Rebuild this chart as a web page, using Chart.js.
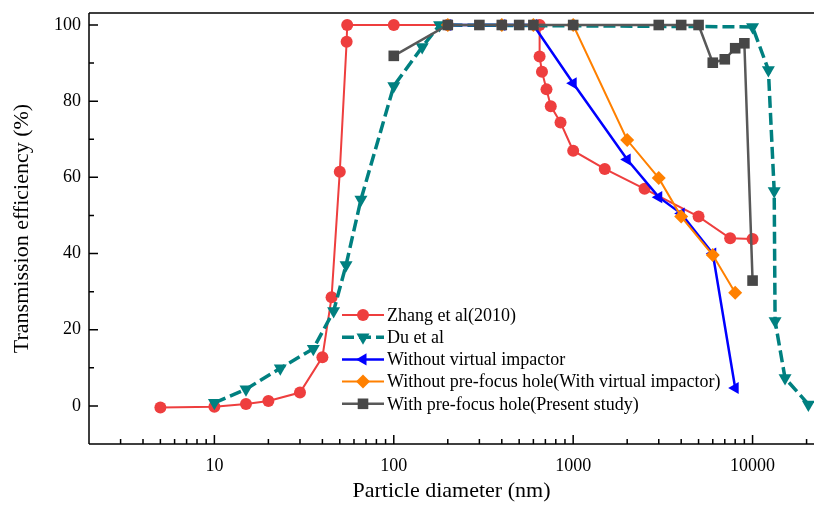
<!DOCTYPE html>
<html lang="en">
<head>
<meta charset="UTF-8">
<title>Transmission efficiency vs particle diameter</title>
<script src="https://cdn.jsdelivr.net/npm/chart.js"></script>
<style>
  html, body { margin: 0; padding: 0; background: #fff; }
  #wrap { width: 814px; height: 512px; }
</style>
</head>
<body>
<div id="wrap"><canvas id="chart"></canvas></div>
<script>
// data (x = particle diameter in nm, y = transmission efficiency in %)
const zhangX = [5, 10, 15, 20, 30, 40, 45, 50, 54.6, 55, 100, 200, 650, 650, 670, 710, 750, 850, 1000, 1500, 2500, 5000, 7500, 10000];
const zhangY = [-0.4, -0.2, 0.5, 1.3, 3.5, 12.8, 28.5, 61.5, 95.6, 100, 100, 100, 100, 91.7, 87.7, 83.1, 78.7, 74.4, 67.0, 62.2, 57.0, 49.7, 44.0, 43.8];

const duX = [10, 15, 23.3, 35.6, 46.2, 54.2, 65.6, 100, 144, 180, 10000, 12250, 13200, 13350, 15170, 20470];
const duY = [0.8, 4.4, 9.9, 15, 24.9, 37, 54.2, 84, 94.2, 100, 99.5, 88.2, 56.4, 22.3, 7.3, 0.4];

const noImpactorX = [200, 400, 600, 1000, 2000, 3000, 4000, 6000, 8000];
const noImpactorY = [100, 100, 100, 84.7, 64.7, 54.8, 50.5, 40, 4.7];

const noHoleX = [200, 400, 600, 1000, 2000, 3000, 4000, 6000, 8000];
const noHoleY = [100, 100, 100, 100, 69.8, 59.8, 49.7, 39.6, 29.7];

const presentX = [100, 200, 300, 400, 500, 600, 1000, 3000, 4000, 5000, 6000, 7000, 8000, 9000, 10000];
const presentY = [91.9, 100, 100, 100, 100, 100, 100, 100, 100, 100, 90.1, 91, 93.9, 95.2, 32.9];

const seriesNames = [
  'Zhang et al(2010)',
  'Du et al',
  'Without virtual impactor',
  'Without pre-focus hole(With virtual impactor)',
  'With pre-focus hole(Present study)'
];

const xTickValues = [3, 4, 5, 6, 7, 8, 9, 10, 20, 30, 40, 50, 60, 70, 80, 90,
  100, 200, 300, 400, 500, 600, 700, 800, 900,
  1000, 2000, 3000, 4000, 5000, 6000, 7000, 8000, 9000, 10000, 20000];
const xLabelValues = [10, 100, 1000, 10000];
const yTickValues = [0, 10, 20, 30, 40, 50, 60, 70, 80, 90, 100];
const yLabelValues = [0, 20, 40, 60, 80, 100];

const pts = (xs, ys) => xs.map((x, i) => ({ x: x, y: ys[i] }));
const serif = 'Liberation Serif, Times New Roman, serif';

// Origin style frame: axis lines, top border, inward ticks
const frame = {
  id: 'frame',
  afterDraw(chart) {
    const { ctx, chartArea: a, scales } = chart;
    const xs = scales.x, ys = scales.y;
    ctx.save();
    ctx.strokeStyle = '#000';
    ctx.lineWidth = 1.5;
    ctx.beginPath();
    ctx.moveTo(a.left, a.top); ctx.lineTo(a.right, a.top);
    ctx.moveTo(a.left, a.top); ctx.lineTo(a.left, a.bottom);
    ctx.moveTo(a.left, a.bottom); ctx.lineTo(a.right, a.bottom);
    xs.ticks.forEach(t => {
      const px = xs.getPixelForValue(t.value);
      const len = xLabelValues.includes(t.value) ? 9 : 5;
      ctx.moveTo(px, a.bottom); ctx.lineTo(px, a.bottom - len);
    });
    ys.ticks.forEach(t => {
      const py = ys.getPixelForValue(t.value);
      const len = yLabelValues.includes(t.value) ? 9 : 5;
      ctx.moveTo(a.left, py); ctx.lineTo(a.left + len, py);
    });
    ctx.stroke();
    ctx.restore();
  }
};

// legend with a short line and the marker in its middle
const lineLegend = {
  id: 'lineLegend',
  afterDatasetsDraw(chart) {
    const ctx = chart.ctx;
    ctx.save();
    ctx.font = '18px ' + serif;
    ctx.textBaseline = 'middle';
    chart.data.datasets.forEach((ds, i) => {
      const yy = 315 + i * 22.2;
      ctx.strokeStyle = ds.borderColor;
      ctx.lineWidth = ds.borderWidth;
      ctx.setLineDash(ds.borderDash || []);
      ctx.beginPath();
      ctx.moveTo(342, yy); ctx.lineTo(384, yy);
      ctx.stroke();
      ctx.setLineDash([]);
      ctx.fillStyle = ds.pointBackgroundColor;
      Chart.helpers.drawPoint(ctx, {
        pointStyle: ds.pointStyle, radius: ds.pointRadius,
        rotation: ds.pointRotation || 0, borderWidth: 0
      }, 363, yy);
      ctx.fillStyle = '#000';
      ctx.fillText(ds.label, 387, yy + 1);
    });
    ctx.restore();
  }
};

new Chart(document.getElementById('chart'), {
  type: 'scatter',
  data: {
    datasets: [
      {
        label: seriesNames[0], data: pts(zhangX, zhangY), showLine: true, order: 5,
        borderColor: '#ee3e3e', borderWidth: 2,
        pointStyle: 'circle', pointRadius: 6, pointBackgroundColor: '#ee3e3e', pointBorderWidth: 0
      },
      {
        label: seriesNames[1], data: pts(duX, duY), showLine: true, order: 4,
        borderColor: '#008080', borderWidth: 3.5, borderDash: [12, 5],
        pointStyle: 'triangle', pointRotation: 180, pointRadius: 7.5,
        pointBackgroundColor: '#008080', pointBorderWidth: 0
      },
      {
        label: seriesNames[2], data: pts(noImpactorX, noImpactorY), showLine: true, order: 3,
        borderColor: '#0000ff', borderWidth: 2.5,
        pointStyle: 'triangle', pointRotation: 270, pointRadius: 7,
        pointBackgroundColor: '#0000ff', pointBorderWidth: 0
      },
      {
        label: seriesNames[3], data: pts(noHoleX, noHoleY), showLine: true, order: 2,
        borderColor: '#ff8000', borderWidth: 2,
        pointStyle: 'rectRot', pointRadius: 7,
        pointBackgroundColor: '#ff8000', pointBorderWidth: 0
      },
      {
        label: seriesNames[4], data: pts(presentX, presentY), showLine: true, order: 1,
        borderColor: '#585858', borderWidth: 2.5,
        pointStyle: 'rect', pointRadius: 7.5,
        pointBackgroundColor: '#474747', pointBorderWidth: 0
      }
    ]
  },
  options: {
    responsive: true,
    maintainAspectRatio: false,
    animation: false,
    layout: { autoPadding: false, padding: { top: 13, right: 0, left: 0, bottom: 0 } },
    plugins: { legend: { display: false }, tooltip: { enabled: false } },
    scales: {
      x: {
        type: 'logarithmic', min: 2, max: 22000,
        afterBuildTicks: s => { s.ticks = xTickValues.map(v => ({ value: v })); },
        afterFit: s => { s.height = 68; s.paddingLeft = 0; s.paddingRight = 0; },
        grid: { display: false, drawTicks: false },
        border: { display: false },
        ticks: {
          autoSkip: false, maxRotation: 0, padding: 11, color: '#000',
          font: { family: serif, size: 18 },
          callback: v => xLabelValues.includes(v) ? String(v) : ''
        },
        title: {
          display: true, text: 'Particle diameter (nm)', color: '#000',
          font: { family: serif, size: 22 }, padding: { top: 0, bottom: 8 }
        }
      },
      y: {
        min: -10, max: 103.15,
        afterBuildTicks: s => { s.ticks = yTickValues.map(v => ({ value: v })); },
        afterFit: s => { s.width = 89; s.paddingTop = 0; s.paddingBottom = 0; },
        grid: { display: false, drawTicks: false },
        border: { display: false },
        ticks: {
          padding: 8, color: '#000',
          font: { family: serif, size: 18 },
          callback: v => yLabelValues.includes(v) ? String(v) : ''
        },
        title: {
          display: true, text: 'Transmission efficiency (%)', color: '#000',
          font: { family: serif, size: 22 }, padding: { top: 9, bottom: 0 }
        }
      }
    }
  },
  plugins: [frame, lineLegend]
});
</script>
</body>
</html>
